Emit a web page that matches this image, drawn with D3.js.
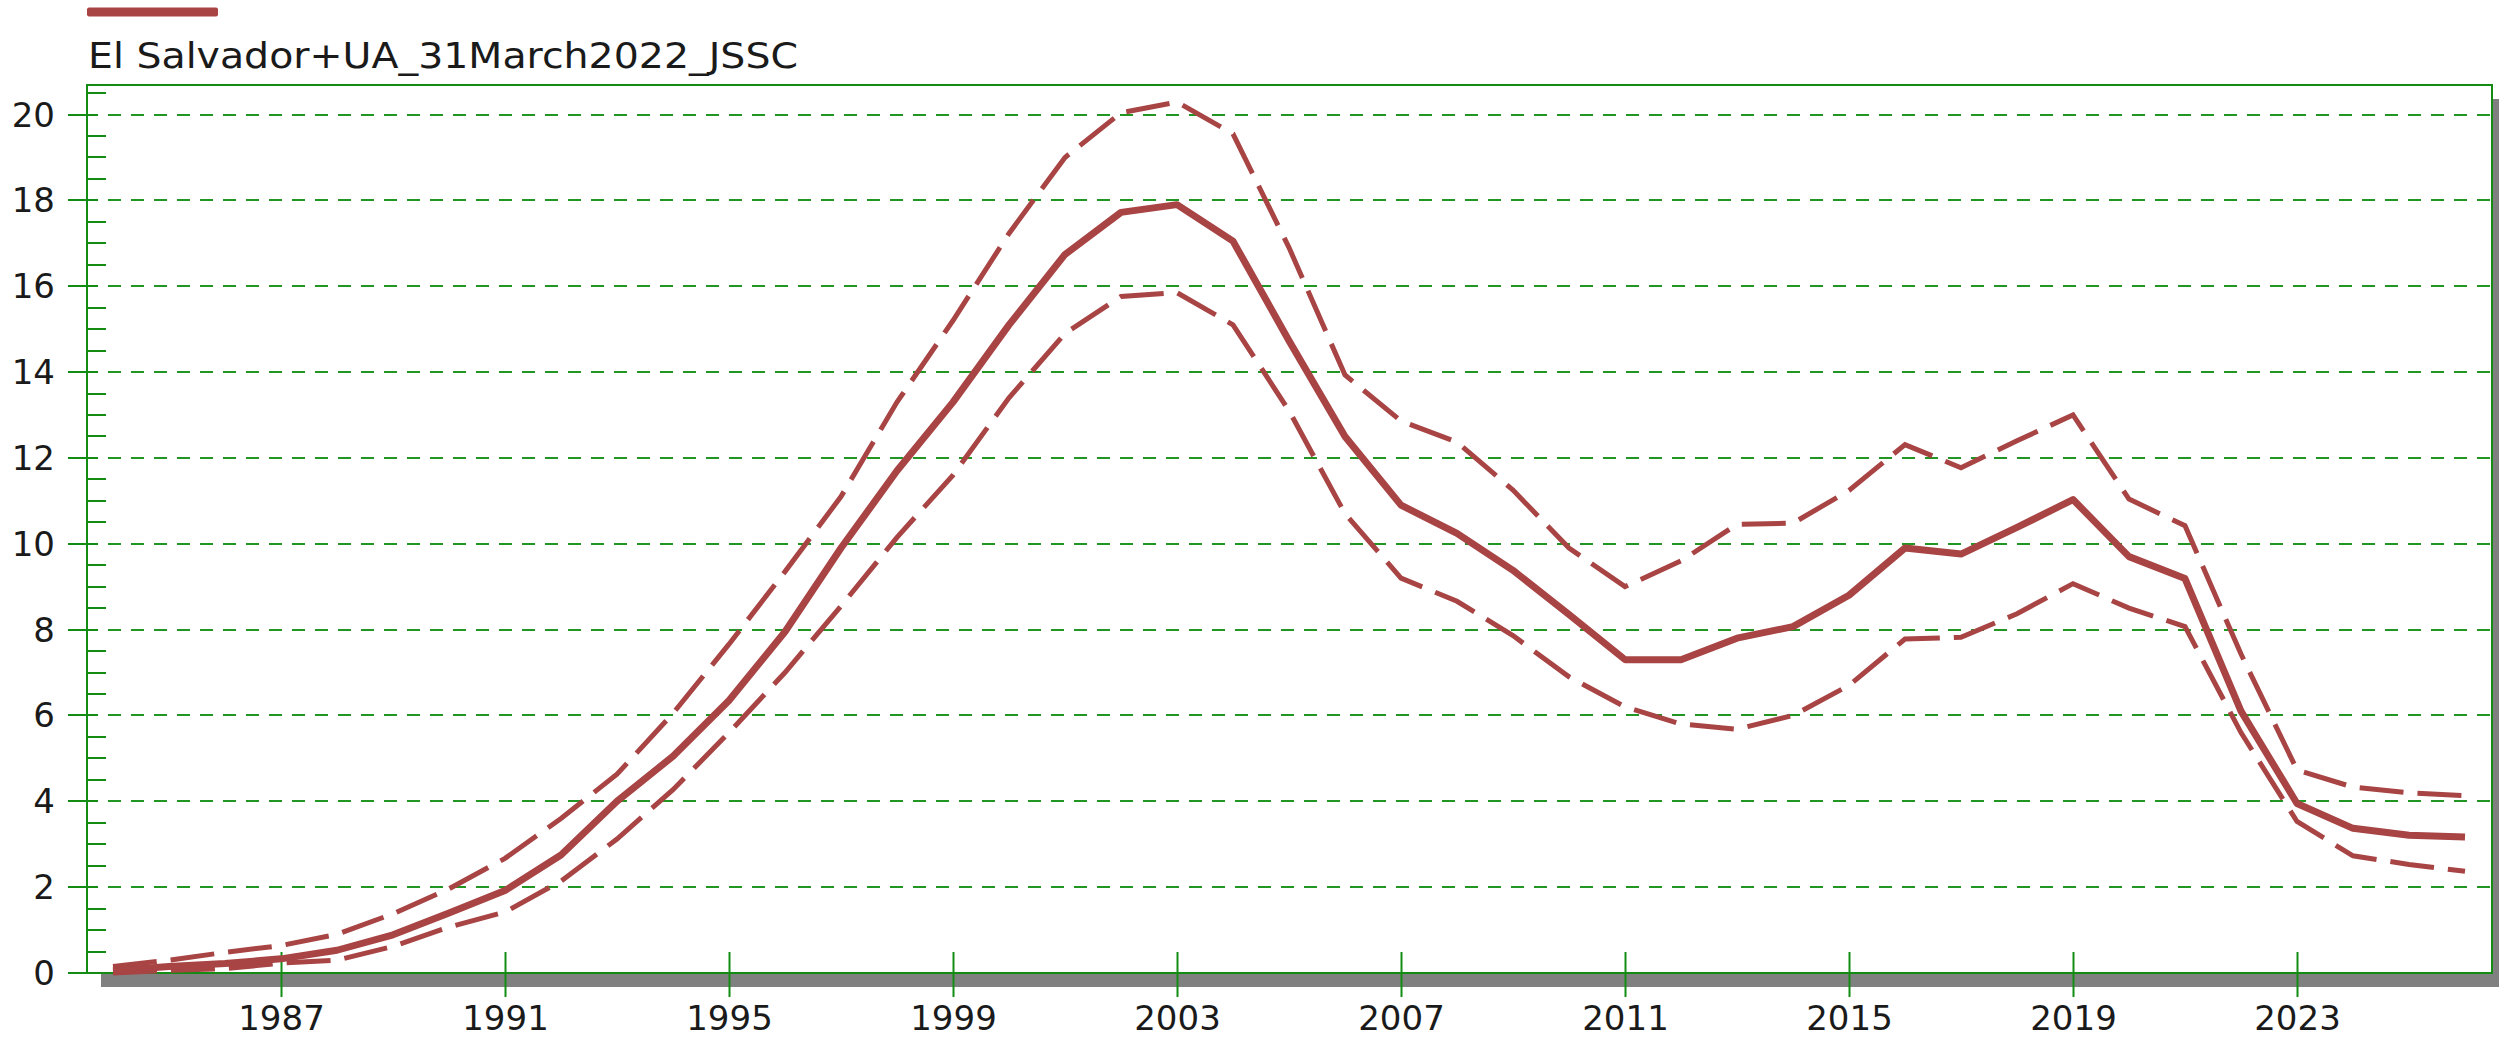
<!DOCTYPE html>
<html>
<head>
<meta charset="utf-8">
<script src="https://cdn.jsdelivr.net/npm/d3@7"></script>
<style>
  body { margin: 0; background: #fff; }
  svg { display: block; }
</style>
</head>
<body>
<svg id="chart" width="2499" height="1037"></svg>
<script>
var seriesName = "El Salvador+UA_31March2022_JSSC";

var years = d3.range(1984, 2027);

var central = [
  0.05, 0.15, 0.22, 0.33, 0.53, 0.89, 1.4, 1.92, 2.75, 4.0,
  5.05, 6.35, 7.95, 9.9, 11.7, 13.3, 15.1, 16.74, 17.72, 17.9,
  17.05, 14.73, 12.5, 10.9, 10.24, 9.38, 8.35, 7.3, 7.3, 7.8,
  8.07, 8.8, 9.9, 9.76, 10.38, 11.03, 9.7, 9.19, 6.1, 3.95,
  3.37, 3.21, 3.17
];

var upper = [
  0.15, 0.3, 0.48, 0.64, 0.9, 1.38, 1.96, 2.67, 3.6, 4.63,
  6.05, 7.66, 9.35, 11.1, 13.3, 15.2, 17.23, 19.0, 20.04, 20.29,
  19.55, 16.9, 13.93, 12.86, 12.37, 11.25, 9.9, 9.0, 9.6, 10.45,
  10.48, 11.24, 12.31, 11.77, 12.4, 13.0, 11.04, 10.42, 7.43, 4.73,
  4.33, 4.2, 4.13
];

var lower = [
  0.0, 0.06, 0.1, 0.23, 0.3, 0.62, 1.07, 1.42, 2.14, 3.12,
  4.27, 5.6, 7.0, 8.55, 10.15, 11.6, 13.4, 14.9, 15.76, 15.85,
  15.1, 13.1, 10.7, 9.2, 8.66, 7.86, 6.9, 6.2, 5.8, 5.68,
  6.0, 6.7, 7.78, 7.82, 8.37, 9.07, 8.5, 8.07, 5.6, 3.53,
  2.73, 2.53, 2.37
];

var yTicks = [0, 2, 4, 6, 8, 10, 12, 14, 16, 18, 20];
var xTicks = [1987, 1991, 1995, 1999, 2003, 2007, 2011, 2015, 2019, 2023];

var lineColor = "#a84444";
var axisColor = "#128c12";
var gridColor = "#229622";
var font = "'DejaVu Sans', sans-serif";

var svg = d3.select("#chart");

// scales: 56px per year, ~42.9px per unit
var x = d3.scaleLinear().domain([1987, 2023]).range([281, 2297]);
var y = d3.scaleLinear().domain([0, 20]).range([973, 114.5]);

// snap 2px rules to whole pixels so they stay crisp
function py(d) { return Math.round(y(d)); }

// plot frame edges (window.top is reserved, so prefix the names)
var plotLeft = 87, plotRight = 2492, plotTop = Math.round(y(20.68)), plotBottom = py(0);
var plotW = plotRight - plotLeft, plotH = plotBottom - plotTop;

// drop shadow of the plot frame
svg.append("rect")
  .attr("x", plotLeft + 14).attr("y", plotTop + 14)
  .attr("width", plotW).attr("height", plotH)
  .attr("fill", "#808080");
svg.append("rect")
  .attr("x", plotLeft).attr("y", plotTop)
  .attr("width", plotW).attr("height", plotH)
  .attr("fill", "#fff");

// dashed grid lines
svg.append("g")
  .selectAll("line")
  .data(yTicks.filter(d => d > 0))
  .join("line")
  .attr("x1", plotLeft + 21).attr("x2", plotRight)
  .attr("y1", d => py(d)).attr("y2", d => py(d))
  .attr("stroke", gridColor)
  .attr("stroke-width", 2)
  .attr("stroke-dasharray", "13 10");

// minor ticks every 0.5 on the inside of the y axis
var minor = d3.range(0.5, 20.6, 0.5).filter(d => d % 2 !== 0);
svg.append("g")
  .selectAll("line")
  .data(minor)
  .join("line")
  .attr("x1", plotLeft).attr("x2", plotLeft + 19)
  .attr("y1", d => py(d)).attr("y2", d => py(d))
  .attr("stroke", axisColor)
  .attr("stroke-width", 2);

// y axis: major ticks crossing the frame, labels on the left
var yAxis = d3.axisLeft(y)
  .tickValues(yTicks)
  .tickSize(0)
  .tickPadding(0)
  .tickFormat(d3.format("d"));

var gy = svg.append("g")
  .attr("transform", `translate(${plotLeft},0)`)
  .call(yAxis);
gy.select(".domain").remove();
gy.selectAll(".tick")
  .attr("transform", d => `translate(0,${py(d)})`);
gy.selectAll(".tick line")
  .attr("x1", -19).attr("x2", 11)
  .attr("stroke", axisColor)
  .attr("stroke-width", 2);
gy.selectAll(".tick text")
  .attr("x", -32)
  .attr("dy", "0.36em")
  .attr("fill", "#1a1a1a")
  .style("font-family", font)
  .style("font-size", "34px");

// x axis
var xAxis = d3.axisBottom(x)
  .tickValues(xTicks)
  .tickSize(0)
  .tickFormat(d3.format("d"));

var gx = svg.append("g")
  .attr("transform", `translate(0,${plotBottom})`)
  .call(xAxis);
gx.select(".domain").remove();

// plot frame
svg.append("rect")
  .attr("x", plotLeft).attr("y", plotTop)
  .attr("width", plotW).attr("height", plotH)
  .attr("fill", "none")
  .attr("stroke", axisColor)
  .attr("stroke-width", 2);

// x ticks go over the frame and the shadow
gx.raise();
gx.selectAll(".tick line")
  .attr("y1", -21).attr("y2", 24)
  .attr("stroke", axisColor)
  .attr("stroke-width", 2);
gx.selectAll(".tick text")
  .attr("y", 57)
  .attr("dy", 0)
  .attr("fill", "#1a1a1a")
  .style("font-family", font)
  .style("font-size", "34px");

// series lines
var line = d3.line()
  .x((d, i) => x(years[i]))
  .y(d => y(d));

svg.append("path")
  .datum(upper)
  .attr("d", line)
  .attr("fill", "none")
  .attr("stroke", lineColor)
  .attr("stroke-width", 5)
  .attr("stroke-dasharray", "44 14");

svg.append("path")
  .datum(lower)
  .attr("d", line)
  .attr("fill", "none")
  .attr("stroke", lineColor)
  .attr("stroke-width", 5)
  .attr("stroke-dasharray", "44 14");

svg.append("path")
  .datum(central)
  .attr("d", line)
  .attr("fill", "none")
  .attr("stroke", lineColor)
  .attr("stroke-width", 7)
  .attr("stroke-linejoin", "round");

// legend swatch and series name
svg.append("rect")
  .attr("x", 87).attr("y", 7.5)
  .attr("width", 131).attr("height", 9)
  .attr("rx", 2)
  .attr("fill", lineColor);

svg.append("text")
  .attr("x", 88).attr("y", 67.5)
  .attr("textLength", 710)
  .attr("lengthAdjust", "spacingAndGlyphs")
  .attr("fill", "#1a1a1a")
  .style("font-family", font)
  .style("font-size", "36px")
  .text(seriesName);
</script>
</body>
</html>
